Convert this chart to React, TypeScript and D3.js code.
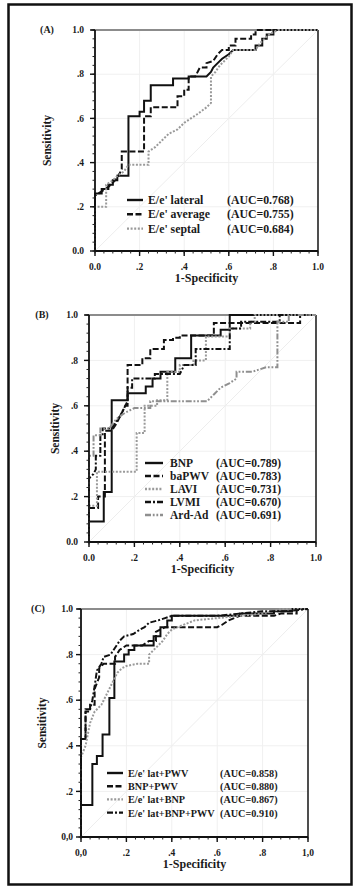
import { useEffect, useRef } from 'react';
import * as d3 from 'd3';

type Pt = [number, number];

// ---- panel A: E/e' indices ----
const lateralA: Pt[] = [[0,0],[0,0.26],[0.03,0.26],[0.03,0.28],[0.06,0.28],[0.06,0.3],[0.08,0.3],[0.08,0.32],[0.1,0.32],[0.1,0.34],[0.15,0.34],[0.15,0.61],[0.2,0.61],[0.2,0.63],[0.22,0.63],[0.22,0.68],[0.25,0.68],[0.25,0.75],[0.35,0.75],[0.35,0.78],[0.42,0.78],[0.42,0.79],[0.5,0.79],[0.52,0.81],[0.53,0.83],[0.55,0.85],[0.57,0.87],[0.6,0.89],[0.62,0.91],[0.72,0.91],[0.72,0.93],[0.75,0.93],[0.75,0.96],[0.77,0.96],[0.77,0.98],[0.8,0.98],[0.8,1],[1,1]];
const averageA: Pt[] = [[0,0],[0,0.25],[0.03,0.27],[0.06,0.29],[0.09,0.32],[0.11,0.35],[0.12,0.37],[0.12,0.45],[0.22,0.45],[0.22,0.61],[0.25,0.61],[0.25,0.65],[0.37,0.65],[0.37,0.7],[0.4,0.7],[0.4,0.73],[0.42,0.73],[0.42,0.79],[0.45,0.79],[0.47,0.83],[0.5,0.83],[0.5,0.85],[0.53,0.86],[0.55,0.89],[0.57,0.91],[0.6,0.91],[0.6,0.93],[0.63,0.93],[0.63,0.96],[0.7,0.96],[0.7,0.98],[0.72,0.98],[0.72,1],[1,1]];
const septalA: Pt[] = [[0,0],[0,0.2],[0.05,0.2],[0.05,0.3],[0.08,0.32],[0.1,0.34],[0.13,0.36],[0.15,0.39],[0.24,0.39],[0.24,0.45],[0.27,0.47],[0.3,0.5],[0.33,0.53],[0.37,0.55],[0.4,0.58],[0.43,0.6],[0.46,0.62],[0.5,0.65],[0.52,0.67],[0.52,0.79],[0.54,0.81],[0.56,0.84],[0.58,0.86],[0.6,0.88],[0.62,0.91],[0.72,0.91],[0.74,0.94],[0.76,0.96],[0.78,0.98],[0.82,1],[1,1]];
const namesA = ["E/e' lateral", "E/e' average", "E/e' septal"];
const aucA = ['(AUC=0.768)', '(AUC=0.755)', '(AUC=0.684)'];

// ---- panel B: single markers ----
const bnpB: Pt[] = [[0,0],[0,0.09],[0.065,0.09],[0.065,0.22],[0.1,0.22],[0.1,0.625],[0.17,0.625],[0.17,0.655],[0.25,0.655],[0.25,0.685],[0.28,0.685],[0.28,0.72],[0.315,0.72],[0.315,0.75],[0.38,0.75],[0.38,0.81],[0.45,0.81],[0.45,0.91],[0.58,0.91],[0.58,0.935],[0.62,0.935],[0.62,1],[1,1]];
const bapwvB: Pt[] = [[0,0],[0,0.15],[0.04,0.15],[0.04,0.2],[0.07,0.2],[0.07,0.49],[0.1,0.49],[0.12,0.52],[0.14,0.56],[0.16,0.6],[0.17,0.6],[0.17,0.78],[0.235,0.78],[0.235,0.81],[0.27,0.81],[0.27,0.85],[0.33,0.85],[0.33,0.89],[0.37,0.89],[0.37,0.9],[0.4,0.9],[0.4,0.91],[0.55,0.91],[0.55,0.965],[0.93,0.965],[0.93,1],[1,1]];
const laviB: Pt[] = [[0,0],[0,0.16],[0.035,0.16],[0.035,0.31],[0.21,0.31],[0.21,0.48],[0.245,0.48],[0.245,0.6],[0.3,0.6],[0.3,0.625],[0.345,0.625],[0.345,0.75],[0.4,0.75],[0.4,0.78],[0.46,0.78],[0.46,0.8],[0.515,0.8],[0.515,0.905],[0.62,0.905],[0.62,0.94],[0.71,0.94],[0.71,0.97],[0.73,0.97],[0.73,1],[1,1]];
const lvmiB: Pt[] = [[0,0],[0,0.28],[0.02,0.3],[0.03,0.32],[0.03,0.38],[0.05,0.38],[0.05,0.47],[0.06,0.47],[0.06,0.5],[0.1,0.5],[0.12,0.53],[0.14,0.56],[0.16,0.6],[0.17,0.62],[0.17,0.68],[0.19,0.68],[0.19,0.72],[0.29,0.72],[0.29,0.74],[0.4,0.74],[0.42,0.78],[0.47,0.78],[0.47,0.85],[0.62,0.85],[0.62,0.94],[0.67,0.94],[0.67,0.97],[0.84,0.97],[0.84,1],[1,1]];
const ardB: Pt[] = [[0,0],[0,0.38],[0.02,0.38],[0.02,0.47],[0.05,0.47],[0.05,0.5],[0.09,0.5],[0.11,0.53],[0.13,0.55],[0.16,0.57],[0.2,0.59],[0.27,0.59],[0.27,0.62],[0.52,0.62],[0.55,0.65],[0.58,0.68],[0.62,0.7],[0.65,0.72],[0.65,0.75],[0.72,0.75],[0.78,0.77],[0.83,0.77],[0.83,0.97],[0.88,0.97],[0.88,1],[1,1]];
const namesB = ['BNP', 'baPWV', 'LAVI', 'LVMI', 'Ard-Ad'];
const aucB = ['(AUC=0.789)', '(AUC=0.783)', '(AUC=0.731)', '(AUC=0.670)', '(AUC=0.691)'];

// ---- panel C: combinations ----
const latPwvC: Pt[] = [[0,0],[0,0.14],[0.05,0.14],[0.05,0.32],[0.07,0.32],[0.07,0.355],[0.095,0.355],[0.095,0.45],[0.125,0.45],[0.125,0.61],[0.147,0.61],[0.147,0.77],[0.19,0.77],[0.19,0.8],[0.21,0.8],[0.21,0.82],[0.235,0.82],[0.235,0.84],[0.32,0.84],[0.32,0.88],[0.35,0.88],[0.35,0.92],[0.38,0.92],[0.38,0.95],[0.4,0.95],[0.4,0.97],[0.7,0.97],[0.7,0.98],[0.85,0.98],[0.85,0.99],[0.93,0.99],[0.93,1],[1,1]];
const bnpPwvC: Pt[] = [[0,0],[0,0.43],[0.02,0.43],[0.02,0.55],[0.04,0.55],[0.04,0.58],[0.06,0.58],[0.06,0.65],[0.08,0.7],[0.08,0.74],[0.1,0.76],[0.15,0.76],[0.15,0.79],[0.17,0.82],[0.2,0.84],[0.27,0.84],[0.3,0.86],[0.33,0.86],[0.33,0.9],[0.37,0.92],[0.6,0.92],[0.62,0.93],[0.65,0.95],[0.7,0.97],[0.85,0.97],[0.88,0.98],[0.95,0.98],[0.95,1],[1,1]];
const latBnpC: Pt[] = [[0,0],[0,0.35],[0.02,0.4],[0.04,0.5],[0.06,0.55],[0.09,0.58],[0.1,0.6],[0.12,0.64],[0.14,0.68],[0.16,0.72],[0.18,0.74],[0.2,0.75],[0.25,0.76],[0.3,0.76],[0.3,0.8],[0.33,0.83],[0.36,0.86],[0.38,0.89],[0.4,0.91],[0.45,0.93],[0.5,0.95],[0.6,0.96],[0.7,0.97],[0.8,0.98],[0.88,1],[1,1]];
const combC: Pt[] = [[0,0],[0,0.43],[0.02,0.43],[0.02,0.56],[0.04,0.56],[0.05,0.6],[0.06,0.66],[0.07,0.73],[0.09,0.76],[0.1,0.79],[0.13,0.8],[0.15,0.83],[0.17,0.86],[0.19,0.88],[0.23,0.89],[0.26,0.91],[0.28,0.92],[0.3,0.94],[0.34,0.95],[0.37,0.96],[0.4,0.97],[0.6,0.97],[0.7,0.98],[0.8,0.99],[0.9,0.99],[1,1]];
const namesC = ["E/e' lat+PWV", 'BNP+PWV', "E/e' lat+BNP", "E/e' lat+BNP+PWV"];
const aucC = ['(AUC=0.858)', '(AUC=0.880)', '(AUC=0.867)', '(AUC=0.910)'];

const majorTicks = [0, 0.2, 0.4, 0.6, 0.8, 1];
const tickLabels = ['0.0', '.2', '.4', '.6', '.8', '1.0'];
const tickLabelsComma = ['0,0', '.2', '.4', '.6', '.8', '1,0'];

const FONT = "'Liberation Serif', 'Times New Roman', serif";

const styles: Record<string, { color: string; dash: string | null }> = {
  solid: { color: '#111', dash: null },
  dash: { color: '#111', dash: '6,2.5' },
  dot: { color: '#9a9a9a', dash: '2,1.6' },
  dashdot: { color: '#111', dash: '6,2,2,2' },
  dashdotdot: { color: '#8f8f8f', dash: '6,1.8,1.8,1.8,1.8,1.8' },
};

interface PanelSpec {
  letter: string;
  left: number; right: number; top: number; bottom: number;
  series: Pt[][];
  kinds: string[];
  names: string[];
  aucs: string[];
  legend: { x1: number; x2: number; tx: number; ax: number; y0: number; dy: number; size: number };
  ylabX: number;
  letterX: number;
  yTickGap: number;
  xLabels: string[];
  yLabels: string[];
}

const panels: PanelSpec[] = [
  {
    letter: '(A)', left: 95, right: 318, top: 30, bottom: 251,
    series: [lateralA, averageA, septalA], kinds: ['solid', 'dash', 'dot'],
    names: namesA, aucs: aucA,
    legend: { x1: 127, x2: 143, tx: 148, ax: 227, y0: 200, dy: 14.3, size: 11.8 },
    ylabX: 47, letterX: 47, yTickGap: 11, xLabels: tickLabels, yLabels: tickLabels,
  },
  {
    letter: '(B)', left: 89, right: 316, top: 315, bottom: 542,
    series: [bnpB, bapwvB, laviB, lvmiB, ardB], kinds: ['solid', 'dash', 'dot', 'dashdot', 'dashdotdot'],
    names: namesB, aucs: aucB,
    legend: { x1: 145, x2: 163, tx: 170, ax: 216, y0: 463, dy: 13, size: 11.5 },
    ylabX: 55, letterX: 42, yTickGap: 11, xLabels: tickLabels, yLabels: tickLabels,
  },
  {
    letter: '(C)', left: 81, right: 308, top: 609, bottom: 837,
    series: [latPwvC, bnpPwvC, latBnpC, combC], kinds: ['solid', 'dash', 'dot', 'dashdot'],
    names: namesC, aucs: aucC,
    legend: { x1: 107, x2: 123, tx: 128, ax: 220, y0: 773, dy: 13.2, size: 10.2 },
    ylabX: 42, letterX: 38, yTickGap: 8, xLabels: tickLabelsComma, yLabels: ['0,0', '.2', '.4', '.6', '.8', '1.0'],
  },
];

export default function App() {
  const svgRef = useRef<SVGSVGElement>(null);

  useEffect(() => {
    document.body.style.margin = '0';
    if (!svgRef.current) return;
    const svg = d3.select(svgRef.current);
    svg.selectAll('*').remove();

    svg.append('rect').attr('width', 357).attr('height', 888).attr('fill', '#fff');
    svg.append('rect')
      .attr('x', 8.5).attr('y', 4.5).attr('width', 343).attr('height', 880)
      .attr('fill', 'none').attr('stroke', '#111').attr('stroke-width', 2.5);

    panels.forEach(p => {
      const x = d3.scaleLinear().domain([0, 1]).range([p.left, p.right]);
      const y = d3.scaleLinear().domain([0, 1]).range([p.bottom, p.top]);
      const g = svg.append('g');

      // faint grid + chance line
      g.selectAll('.gx').data(majorTicks.slice(1, -1)).enter().append('line')
        .attr('x1', d => x(d)).attr('x2', d => x(d)).attr('y1', y(0)).attr('y2', y(1))
        .attr('stroke', '#f0f0f0').attr('stroke-width', 1);
      g.selectAll('.gy').data(majorTicks.slice(1, -1)).enter().append('line')
        .attr('y1', d => y(d)).attr('y2', d => y(d)).attr('x1', x(0)).attr('x2', x(1))
        .attr('stroke', '#f0f0f0').attr('stroke-width', 1);
      g.append('line')
        .attr('x1', x(0)).attr('y1', y(0)).attr('x2', x(1)).attr('y2', y(1))
        .attr('stroke', '#ededed').attr('stroke-width', 1);

      // frame: gray top, black right
      g.append('line').attr('x1', x(0) - 4).attr('x2', x(1)).attr('y1', y(1)).attr('y2', y(1))
        .attr('stroke', '#8c8c8c').attr('stroke-width', 2.2);
      g.append('line').attr('x1', x(1)).attr('x2', x(1)).attr('y1', y(1)).attr('y2', y(0))
        .attr('stroke', '#222').attr('stroke-width', 1.6);

      // curves
      const line = d3.line<Pt>().x(d => x(d[0])).y(d => y(d[1]));
      p.series.forEach((s, i) => {
        const st = styles[p.kinds[i]];
        g.append('path').datum(s)
          .attr('fill', 'none').attr('stroke', st.color).attr('stroke-width', 2)
          .attr('stroke-dasharray', st.dash)
          .attr('stroke-linejoin', 'miter')
          .attr('d', line);
      });

      // axes
      const minor = d3.range(0, 1.0001, 0.04);
      g.append('line').attr('x1', x(0)).attr('x2', x(0)).attr('y1', y(0)).attr('y2', y(1))
        .attr('stroke', '#111').attr('stroke-width', 1.8);
      g.append('line').attr('x1', x(0)).attr('x2', x(1)).attr('y1', y(0)).attr('y2', y(0))
        .attr('stroke', '#111').attr('stroke-width', 1.8);
      g.selectAll('.mx').data(minor).enter().append('line')
        .attr('x1', d => x(d)).attr('x2', d => x(d)).attr('y1', y(0)).attr('y2', y(0) + 2.5)
        .attr('stroke', '#222').attr('stroke-width', 1);
      g.selectAll('.my').data(minor).enter().append('line')
        .attr('y1', d => y(d)).attr('y2', d => y(d)).attr('x1', x(0)).attr('x2', x(0) - 2.5)
        .attr('stroke', '#222').attr('stroke-width', 1);
      g.selectAll('.Mx').data(majorTicks).enter().append('line')
        .attr('x1', d => x(d)).attr('x2', d => x(d)).attr('y1', y(0)).attr('y2', y(0) + 5)
        .attr('stroke', '#111').attr('stroke-width', 1.4);
      g.selectAll('.My').data(majorTicks).enter().append('line')
        .attr('y1', d => y(d)).attr('y2', d => y(d)).attr('x1', x(0)).attr('x2', x(0) - 5)
        .attr('stroke', '#111').attr('stroke-width', 1.4);

      const txt = (sel: d3.Selection<SVGTextElement, any, any, any>, size: number) =>
        sel.attr('font-family', FONT).attr('font-weight', 'bold').attr('font-size', size).attr('fill', '#1a1a1a');

      txt(g.selectAll('.xl').data(majorTicks).enter().append('text')
        .attr('x', d => x(d)).attr('y', y(0) + 19).attr('text-anchor', 'middle')
        .text((d, i) => p.xLabels[i]), 9.5);
      txt(g.selectAll('.yl').data(majorTicks).enter().append('text')
        .attr('x', x(0) - p.yTickGap).attr('y', d => y(d) + 3.2).attr('text-anchor', 'end')
        .text((d, i) => p.yLabels[i]), 9.5);

      txt(g.append('text').attr('x', p.letterX).attr('y', y(1) + 3.3).attr('text-anchor', 'middle').text(p.letter), 10);
      txt(g.append('text').attr('x', (x(0) + x(1)) / 2).attr('y', y(0) + 31).attr('text-anchor', 'middle').text('1-Specificity'), 12);
      txt(g.append('text')
        .attr('transform', `translate(${p.ylabX},${(y(0) + y(1)) / 2}) rotate(-90)`)
        .attr('text-anchor', 'middle').attr('dy', '0.35em').text('Sensitivity'), 11.5);

      // legend
      const L = p.legend;
      p.names.forEach((n, i) => {
        const st = styles[p.kinds[i]];
        const cy = L.y0 + i * L.dy;
        g.append('line').attr('x1', L.x1).attr('x2', L.x2).attr('y1', cy).attr('y2', cy)
          .attr('stroke', st.color).attr('stroke-width', 2.4).attr('stroke-dasharray', st.dash);
        txt(g.append('text').attr('x', L.tx).attr('y', cy + 4).text(n), L.size);
        txt(g.append('text').attr('x', L.ax).attr('y', cy + 4).text(p.aucs[i]), L.size);
      });
    });
  }, []);

  return <svg ref={svgRef} width={357} height={888} style={{ display: 'block' }} />;
}
